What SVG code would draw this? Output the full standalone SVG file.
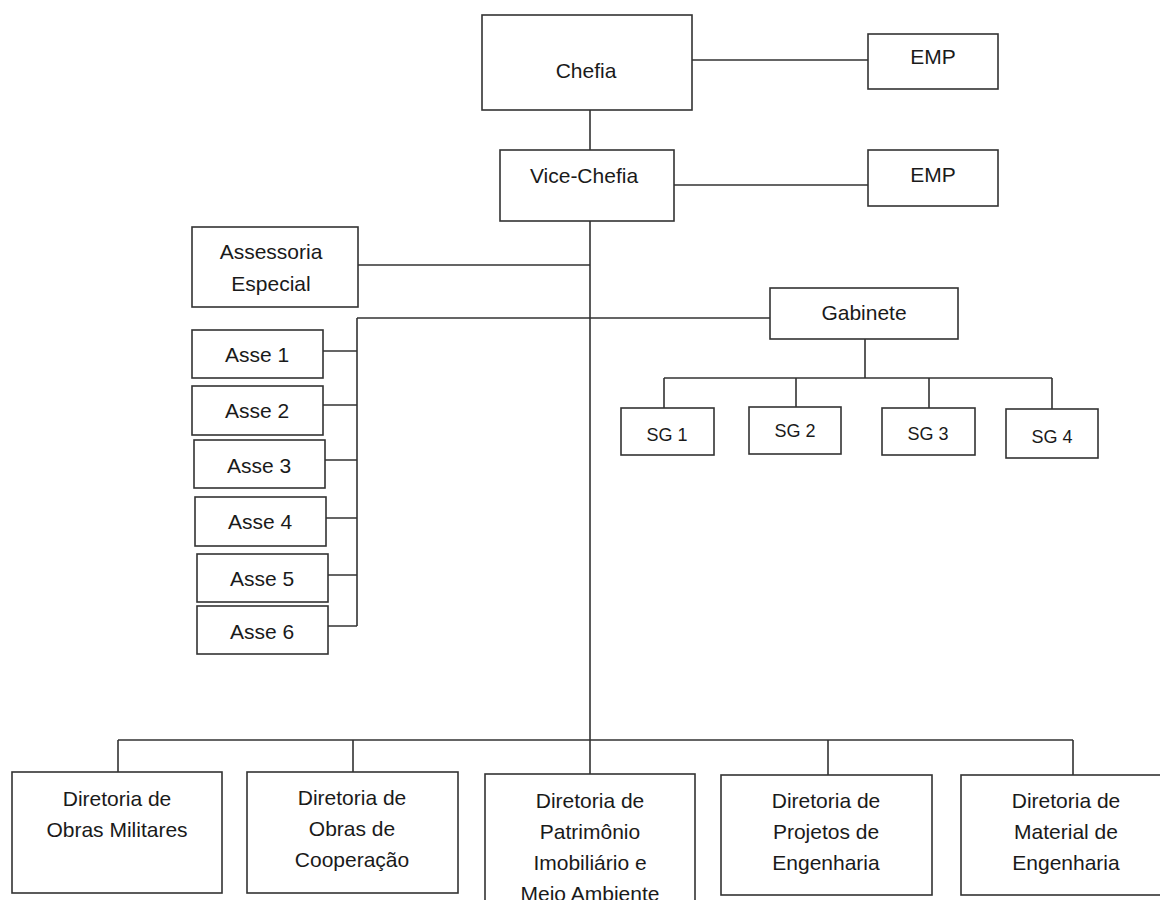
<svg xmlns="http://www.w3.org/2000/svg" width="1160" height="900" viewBox="0 0 1160 900">
<style>
.b{fill:#fff;stroke:#333;stroke-width:1.6}
.c{fill:none;stroke:#333;stroke-width:1.6}
text{font-family:"Liberation Sans",Arial,sans-serif;font-size:21px;fill:#1a1a1a;text-anchor:middle}
.s{font-size:18px}
</style>
<rect width="1160" height="900" fill="#fff"/>
<g id="connectors">
<path class="c" d="M692 60H868M590 110V150M674 185H868M590 221V740M358 265H590M357 318H770M357 318V626M323 351H357M323 405H357M325 460H357M326 518H357M328 575H357M328 626H357"/>
<path class="c" d="M865 339V378M664 378H1052M664 378V408M796 378V407M929 378V408M1052 378V409"/>
<path class="c" d="M118 740H1073M118 740V772M353 740V772M590 740V774M828 740V775M1073 740V775"/>
</g>
<g id="chefia"><rect class="b" x="482" y="15" width="210" height="95"/><text x="586" y="78">Chefia</text></g>
<g id="emp1"><rect class="b" x="868" y="34" width="130" height="55"/><text x="933" y="64">EMP</text></g>
<g id="vice"><rect class="b" x="500" y="150" width="174" height="71"/><text x="584" y="183">Vice-Chefia</text></g>
<g id="emp2"><rect class="b" x="868" y="150" width="130" height="56"/><text x="933" y="182">EMP</text></g>
<g id="assessoria"><rect class="b" x="192" y="227" width="166" height="80"/><text x="271" y="259">Assessoria</text><text x="271" y="291">Especial</text></g>
<g id="gabinete"><rect class="b" x="770" y="288" width="188" height="51"/><text x="864" y="320">Gabinete</text></g>
<g id="asse1"><rect class="b" x="192" y="330" width="131" height="48"/><text x="257" y="362">Asse 1</text></g>
<g id="asse2"><rect class="b" x="192" y="386" width="131" height="49"/><text x="257" y="418">Asse 2</text></g>
<g id="asse3"><rect class="b" x="194" y="440" width="131" height="48"/><text x="259" y="473">Asse 3</text></g>
<g id="asse4"><rect class="b" x="195" y="497" width="131" height="49"/><text x="260" y="529">Asse 4</text></g>
<g id="asse5"><rect class="b" x="197" y="554" width="131" height="48"/><text x="262" y="586">Asse 5</text></g>
<g id="asse6"><rect class="b" x="197" y="606" width="131" height="48"/><text x="262" y="639">Asse 6</text></g>
<g id="sg1"><rect class="b" x="621" y="408" width="93" height="47"/><text class="s" x="667" y="441">SG 1</text></g>
<g id="sg2"><rect class="b" x="749" y="407" width="92" height="47"/><text class="s" x="795" y="437">SG 2</text></g>
<g id="sg3"><rect class="b" x="882" y="408" width="93" height="47"/><text class="s" x="928" y="440">SG 3</text></g>
<g id="sg4"><rect class="b" x="1006" y="409" width="92" height="49"/><text class="s" x="1052" y="443">SG 4</text></g>
<g id="dir1"><rect class="b" x="12" y="772" width="210" height="121"/><text x="117" y="806">Diretoria de</text><text x="117" y="837">Obras Militares</text></g>
<g id="dir2"><rect class="b" x="247" y="772" width="211" height="121"/><text x="352" y="805">Diretoria de</text><text x="352" y="836">Obras de</text><text x="352" y="867">Cooperação</text></g>
<g id="dir3"><rect class="b" x="485" y="774" width="210" height="140"/><text x="590" y="808">Diretoria de</text><text x="590" y="839">Patrimônio</text><text x="590" y="870">Imobiliário e</text><text x="590" y="901">Meio Ambiente</text></g>
<g id="dir4"><rect class="b" x="721" y="775" width="211" height="120"/><text x="826" y="808">Diretoria de</text><text x="826" y="839">Projetos de</text><text x="826" y="870">Engenharia</text></g>
<g id="dir5"><rect class="b" x="961" y="775" width="210" height="120"/><text x="1066" y="808">Diretoria de</text><text x="1066" y="839">Material de</text><text x="1066" y="870">Engenharia</text></g>
</svg>
